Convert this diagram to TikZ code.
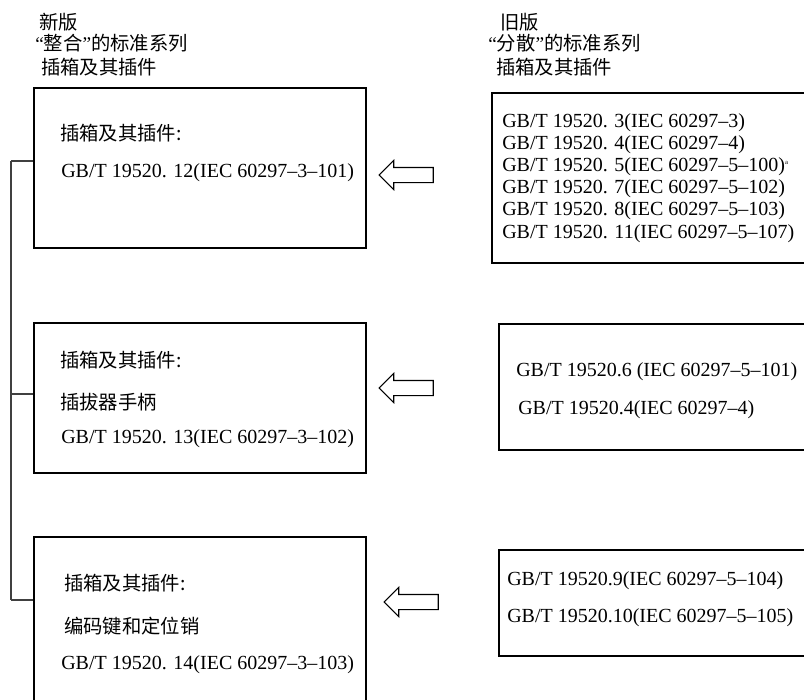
\documentclass[tikz,border=0pt]{standalone}
\usepackage{fontspec}
\setmainfont{Liberation Serif}
\newfontfamily\cjk{Noto Sans CJK SC}
\usetikzlibrary{shapes,arrows}
\tikzstyle{stdbox}=[rectangle,draw=black,line width=1.5pt,anchor=north west,inner sep=0pt]
\tikzstyle{txt}=[anchor=west,inner sep=0pt,font=\fontsize{15}{16.5}\selectfont]
\tikzstyle{lbl}=[anchor=west,inner sep=0pt,font=\cjk\fontsize{14.5}{17}\selectfont]
\tikzstyle{hollow}=[single arrow,draw=black,line width=0.8pt,shape border rotate=180,minimum height=40.5pt,minimum width=21pt,single arrow head extend=5.25pt,inner xsep=0pt,inner ysep=5.25pt]
\tikzstyle{bus}=[line width=0.9pt,black!75]

\begin{document}
\begin{tikzpicture}[x=0.75pt,y=-0.75pt]
          \path[use as bounding box,clip] (0,0) rectangle (804,700);

          \node[lbl] (hn1) at (39,22) {新版};
          \node[lbl] (hn2) at (35,43) {{\rmfamily “}整合{\rmfamily ”}的标准系列};
          \node[lbl] (hn3) at (41,67) {插箱及其插件};

          \node[lbl] (ho1) at (500,22) {旧版};
          \node[lbl] (ho2) at (488,43) {{\rmfamily “}分散{\rmfamily ”}的标准系列};
          \node[lbl] (ho3) at (496,67) {插箱及其插件};

          \node[stdbox,minimum width=249pt,minimum height=120pt]   (b1) at (33,87) {};
          \node[stdbox,minimum width=249pt,minimum height=112.5pt] (b2) at (33,322) {};
          \node[stdbox,minimum width=249pt,minimum height=150pt]   (b3) at (33,536) {};

          \node[lbl] (b1a) at (60,133) {插箱及其插件:};
          \node[txt] (b1b) at (61,173) {GB/T 19520. 12(IEC 60297–3–101)};

          \node[lbl] (b2a) at (60,360) {插箱及其插件:};
          \node[lbl] (b2b) at (60,402) {插拔器手柄};
          \node[txt] (b2c) at (61,439) {GB/T 19520. 13(IEC 60297–3–102)};

          \node[lbl] (b3a) at (64,583) {插箱及其插件:};
          \node[lbl] (b3b) at (64,626) {编码键和定位销};
          \node[txt] (b3c) at (61,665) {GB/T 19520. 14(IEC 60297–3–103)};

          \node[stdbox,minimum width=262pt,minimum height=127.5pt] (r1) at (491,92) {};
          \node[stdbox,minimum width=262pt,minimum height=94.5pt]  (r2) at (498,323) {};
          \node[stdbox,minimum width=262pt,minimum height=79.5pt]  (r3) at (498,549) {};

          \foreach \t [count=\i] in {GB/T 19520. 3(IEC 60297–3),GB/T 19520. 4(IEC 60297–4),GB/T 19520. 5(IEC 60297–5–100)\textsuperscript{\tiny a},GB/T 19520. 7(IEC 60297–5–102),GB/T 19520. 8(IEC 60297–5–103),GB/T 19520. 11(IEC 60297–5–107)}
            \node[txt] (r1l\i) at (502,{100+22.2*\i}) {\t};

          \node[txt] (r2a) at (516,372) {GB/T 19520.6 (IEC 60297–5–101)};
          \node[txt] (r2b) at (518,410) {GB/T 19520.4(IEC 60297–4)};

          \node[txt] (r3a) at (507,581) {GB/T 19520.9(IEC 60297–5–104)};
          \node[txt] (r3b) at (507,618) {GB/T 19520.10(IEC 60297–5–105)};

          \node[hollow] (ar1) at (410,175) {};
          \node[hollow] (ar2) at (410,388) {};
          \node[hollow] (ar3) at (415,602) {};

          \coordinate (k1) at (11,161);
          \coordinate (k2) at (11,394);
          \coordinate (k3) at (11,600);
          \draw[bus] (k1) -- (k3);
          \draw[bus] (k1) -- (k1 -| b1.west);
          \draw[bus] (k2) -- (k2 -| b2.west);
          \draw[bus] (k3) -- (k3 -| b3.west);
        \end{tikzpicture}
\end{document}
